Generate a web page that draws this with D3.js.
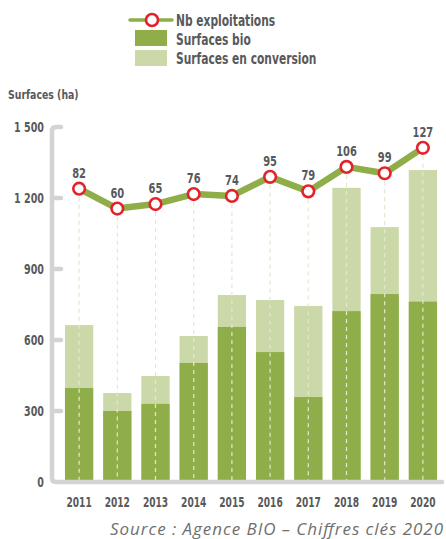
<!DOCTYPE html>
<html>
<head>
<meta charset="utf-8">
<script src="https://cdn.jsdelivr.net/npm/d3@7"></script>
<style>
  body { margin: 0; background: #fff; }
  svg text { font-family: "Liberation Sans Narrow", "DejaVu Sans Condensed", "DejaVu Sans", sans-serif; font-stretch: condensed; }
  .lbl { font-weight: bold; fill: #58595b; }
  .src { font-family: "Open Sans", "DejaVu Sans", sans-serif; font-style: italic; fill: #6f6f6f; font-stretch: normal; }
</style>
</head>
<body>
<svg id="chart" width="446" height="539"></svg>
<script>
var years = ["2011","2012","2013","2014","2015","2016","2017","2018","2019","2020"];
var bio = [397, 300, 330, 503, 655, 549, 359, 722, 794, 762];
var total = [663, 376, 448, 617, 790, 769, 744, 1243, 1077, 1318];
var exploitations = [82, 60, 65, 76, 74, 95, 79, 106, 99, 127];
var yTicks = [0, 300, 600, 900, 1200, 1500];

var green = "#8fae49", light = "#cbd8a8", red = "#e3232b", grey = "#d3d3d3";

var svg = d3.select("#chart");

// squeeze text horizontally, the original font is narrower than what we have
function squeeze(sel, k) {
  sel.each(function(){
    var w = this.getComputedTextLength();
    d3.select(this).attr("textLength", w * k).attr("lengthAdjust", "spacingAndGlyphs");
  });
}

var x = d3.scaleBand().domain(years).range([60, 442]).paddingInner(0.26).paddingOuter(0.13);
var y = d3.scaleLinear().domain([0, 1500]).range([482, 127]);
var y2 = d3.scaleLinear().domain([0, 150]).range([263, 127]);

// bars
var bars = svg.append("g");
bars.selectAll("rect.conv")
    .data(years)
  .enter().append("rect")
    .attr("x", function(d){ return x(d); })
    .attr("y", function(d, i){ return y(total[i]); })
    .attr("width", x.bandwidth())
    .attr("height", function(d, i){ return y(0) - y(total[i]); })
    .style("fill", light);
bars.selectAll("rect.bio")
    .data(years)
  .enter().append("rect")
    .attr("x", function(d){ return x(d); })
    .attr("y", function(d, i){ return y(bio[i]); })
    .attr("width", x.bandwidth())
    .attr("height", function(d, i){ return y(0) - y(bio[i]); })
    .style("fill", green);

// dashed guides
svg.append("g").selectAll("line")
    .data(years)
  .enter().append("line")
    .attr("x1", function(d){ return x(d) + x.bandwidth() / 2; })
    .attr("x2", function(d){ return x(d) + x.bandwidth() / 2; })
    .attr("y1", function(d, i){ return y2(exploitations[i]); })
    .attr("y2", y(0))
    .style("stroke", "#e6e6cf")
    .style("stroke-width", 1.2)
    .style("stroke-dasharray", "4,4");

// axis frame
var ax = svg.append("g").style("fill", "none").style("stroke", grey)
  .style("stroke-width", 4.5).style("stroke-linecap", "round");
var x0 = 52, r = 4;
ax.append("path")
  .attr("d", "M" + (x0 + 9) + "," + y(1500) + " H" + (x0 + r) + " Q" + x0 + "," + y(1500) + " " + x0 + "," + (y(1500) + r) +
             " V" + (y(0) - r) + " Q" + x0 + "," + y(0) + " " + (x0 + r) + "," + y(0) + " H442");
ax.selectAll("line")
    .data(yTicks.slice(1, 5))
  .enter().append("line")
    .attr("x1", x0).attr("x2", x0 + 9)
    .attr("y1", function(d){ return y(d); })
    .attr("y2", function(d){ return y(d); });

// y labels
svg.append("g").selectAll("text")
    .data(yTicks)
  .enter().append("text")
    .attr("class", "lbl")
    .attr("x", 44)
    .attr("y", function(d){ return y(d) + 5; })
    .attr("text-anchor", "end")
    .style("font-size", "14px")
    .text(function(d){ return d3.format(",")(d).replace(",", " "); })
    .call(squeeze, 0.76);

svg.append("text").attr("class", "lbl").attr("x", 8).attr("y", 99)
  .style("font-size", "13px").text("Surfaces (ha)").call(squeeze, 0.8);

// x labels
svg.append("g").selectAll("text")
    .data(years)
  .enter().append("text")
    .attr("class", "lbl")
    .attr("x", function(d){ return x(d) + x.bandwidth() / 2; })
    .attr("y", 507)
    .attr("text-anchor", "middle")
    .style("font-size", "14px")
    .text(function(d){ return d; })
    .call(squeeze, 0.72);

// line
var line = d3.line()
  .x(function(d, i){ return x(years[i]) + x.bandwidth() / 2; })
  .y(function(d){ return y2(d); });
svg.append("path").datum(exploitations)
  .attr("d", line)
  .style("fill", "none").style("stroke", green).style("stroke-width", 6.5)
  .style("stroke-linejoin", "round");

svg.append("g").selectAll("circle")
    .data(exploitations)
  .enter().append("circle")
    .attr("cx", function(d, i){ return x(years[i]) + x.bandwidth() / 2; })
    .attr("cy", function(d){ return y2(d); })
    .attr("r", 5.8)
    .style("fill", "#fff").style("stroke", red).style("stroke-width", 2.6);

svg.append("g").selectAll("text")
    .data(exploitations)
  .enter().append("text")
    .attr("class", "lbl")
    .attr("x", function(d, i){ return x(years[i]) + x.bandwidth() / 2; })
    .attr("y", function(d){ return y2(d) - 11; })
    .attr("text-anchor", "middle")
    .style("font-size", "14.5px")
    .text(function(d){ return d; })
    .call(squeeze, 0.76);

// legend
var lg = svg.append("g");
lg.append("line").attr("x1", 130).attr("x2", 172).attr("y1", 20).attr("y2", 20)
  .style("stroke", green).style("stroke-width", 3.5).style("stroke-linecap", "round");
lg.append("circle").attr("cx", 152).attr("cy", 20).attr("r", 6)
  .style("fill", "#fff").style("stroke", red).style("stroke-width", 2.6);
lg.append("rect").attr("x", 135).attr("y", 30).attr("width", 32).attr("height", 16).style("fill", green);
lg.append("rect").attr("x", 135).attr("y", 50).attr("width", 32).attr("height", 16).style("fill", light);
var legendLabels = ["Nb exploitations", "Surfaces bio", "Surfaces en conversion"];
lg.selectAll("text")
    .data(legendLabels)
  .enter().append("text")
    .attr("class", "lbl")
    .attr("x", 176)
    .attr("y", function(d, i){ return 25.5 + i * 19; })
    .style("font-size", "16.5px")
    .text(function(d){ return d; })
    .call(squeeze, 0.72);

svg.append("text").attr("class", "src")
  .attr("x", 443).attr("y", 535).attr("text-anchor", "end")
  .style("font-size", "17px")
  .attr("textLength", 333).attr("lengthAdjust", "spacing")
  .text("Source : Agence BIO – Chiffres clés 2020");
</script>
</body>
</html>
